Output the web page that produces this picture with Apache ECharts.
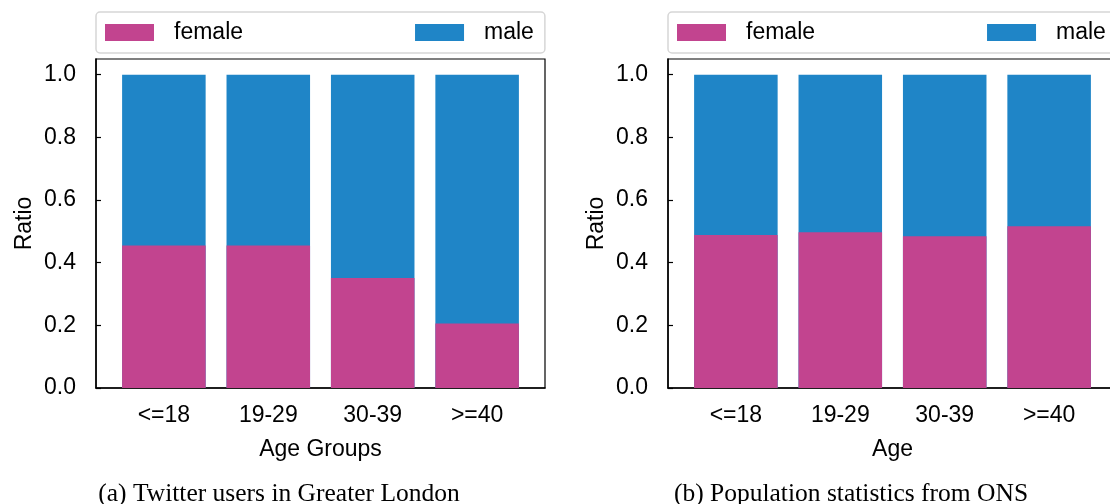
<!DOCTYPE html>
<html>
<head>
<meta charset="utf-8">
<script src="https://cdn.jsdelivr.net/npm/echarts@6/dist/echarts.min.js"></script>
<style>
html,body{margin:0;padding:0;background:#fff;overflow:hidden;width:1110px;height:504px;}
#chart{width:1124px;height:504px;}
</style>
</head>
<body>
<div id="chart"></div>
<script>
// ---- data ----
const categories = ['<=18', '19-29', '30-39', '>=40'];
const twitterFemale = [0.455, 0.455, 0.351, 0.206];
const twitterMale = [0.545, 0.545, 0.649, 0.794];
const onsFemale = [0.488, 0.497, 0.484, 0.516];
const onsMale = [0.512, 0.503, 0.516, 0.484];
const yTicks = [0, 0.2, 0.4, 0.6, 0.8, 1.0];
const xTicks = [0, 1, 2, 3];
const seriesNames = ['female', 'male'];
const captions = ['(a) Twitter users in Greater London', '(b) Population statistics from ONS'];
const xNames = ['Age Groups', 'Age'];

const FEMALE = '#c2448f';
const MALE = '#1f85c7';
const FONT = 'Liberation Sans, Arial, sans-serif';

// the figure is wider than the window; its right edge is cut off as in the reference
const chart = echarts.init(document.getElementById('chart'), null, {renderer: 'canvas'});

const gridLefts = [96, 668];
const gridWidth = 449;

function mkGrid(i) {
  return {
    left: gridLefts[i], width: gridWidth, top: 59, bottom: 116,
    show: true, borderColor: '#000', borderWidth: 1.2, backgroundColor: 'transparent',
    containLabel: false
  };
}
function mkX(i) {
  return {
    type: 'value', gridIndex: i, min: -0.65, max: 3.65,
    name: xNames[i], nameLocation: 'middle', nameGap: 50,
    nameTextStyle: {fontFamily: FONT, fontSize: 23, color: '#000'},
    axisLine: {show: true, onZero: false, lineStyle: {color: '#000', width: 1.5}},
    axisTick: {show: true, inside: true, length: 5, customValues: xTicks, lineStyle: {color: '#000', width: 1.2}},
    axisLabel: {customValues: xTicks, margin: 16, fontFamily: FONT, fontSize: 23, color: '#000',
      formatter: v => categories[Math.round(v)]},
    splitLine: {show: false}
  };
}
function mkY(i) {
  return {
    type: 'value', gridIndex: i, min: 0, max: 1.05,
    name: 'Ratio', nameLocation: 'middle', nameGap: 60, nameRotate: 90,
    nameTextStyle: {fontFamily: FONT, fontSize: 23, color: '#000'},
    axisLine: {show: true, onZero: false, lineStyle: {color: '#000', width: 1.5}},
    axisTick: {show: true, inside: true, length: 5, customValues: yTicks, lineStyle: {color: '#000', width: 1.2}},
    axisLabel: {customValues: yTicks, margin: 20, fontFamily: FONT, fontSize: 23, color: '#000',
      formatter: v => v.toFixed(1)},
    splitLine: {show: false}
  };
}
// stacked bars: the male bar spans female+male (its stacked top), the female bar is drawn over its lower part
function mkSeries(i, female, male) {
  const femaleData = female.map((v, k) => [k, v]);
  const stackTop = male.map((v, k) => [k, female[k] + v]);
  return [
    {type: 'bar', name: seriesNames[1], xAxisIndex: i, yAxisIndex: i,
      barWidth: '80%', barGap: '-100%', data: stackTop, itemStyle: {color: MALE}, z: 2},
    {type: 'bar', name: seriesNames[0], xAxisIndex: i, yAxisIndex: i,
      barWidth: '80%', barGap: '-100%', data: femaleData, itemStyle: {color: FEMALE}, z: 3}
  ];
}
function mkLegend(i) {
  return {
    left: gridLefts[i], top: 12, width: 440, orient: 'horizontal',
    data: seriesNames, icon: 'rect', itemWidth: 49, itemHeight: 17, itemGap: 172,
    padding: [9, 11, 9, 9],
    backgroundColor: 'rgba(255,255,255,0.8)', borderColor: '#d6d6d6', borderWidth: 1.5, borderRadius: 4,
    selectedMode: false,
    textStyle: {fontFamily: FONT, fontSize: 23, color: '#000', padding: [0, 0, 0, 15]}
  };
}

const capCenters = [279, 851];

const option = {
  animation: false,
  backgroundColor: '#fff',
  grid: [mkGrid(0), mkGrid(1)],
  xAxis: [mkX(0), mkX(1)],
  yAxis: [mkY(0), mkY(1)],
  legend: [mkLegend(0), mkLegend(1)],
  series: [...mkSeries(0, twitterFemale, twitterMale), ...mkSeries(1, onsFemale, onsMale)],
  graphic: captions.map((c, i) => ({
    type: 'text', x: capCenters[i], y: 494,
    style: {text: c, fontFamily: 'Liberation Serif, Times New Roman, serif', fontSize: 25.5,
      fill: '#000', align: 'center', verticalAlign: 'middle'}
  }))
};
chart.setOption(option);
</script>
</body>
</html>
